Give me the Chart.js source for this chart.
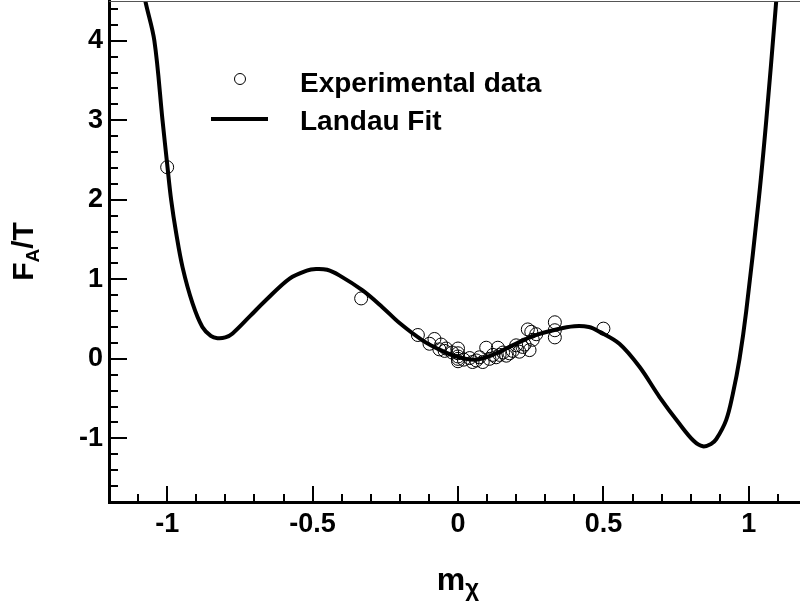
<!DOCTYPE html>
<html>
<head>
<meta charset="utf-8">
<script src="https://cdn.jsdelivr.net/npm/chart.js@4"></script>
<style>
  html, body { margin: 0; padding: 0; background: #fff; overflow: hidden; }
  #wrap { width: 800px; height: 602px; overflow: hidden; position: relative; }
  canvas { display: block; }
</style>
</head>
<body>
<div id="wrap"><canvas id="landauChart" width="820" height="602"></canvas></div>
<script>
// ======================
// DATA
// ======================
const fitM = [
  -1.10, -1.075, -1.044, -1.016, -1.0, -0.986, -0.969, -0.947, -0.913, -0.879,
  -0.85, -0.827, -0.80, -0.775, -0.717, -0.66, -0.579, -0.52, -0.488, -0.45,
  -0.408, -0.328, -0.26, -0.201, -0.121, -0.06, -0.006, 0.06, 0.12, 0.188,
  0.26, 0.338, 0.40, 0.45, 0.487, 0.555, 0.624, 0.693, 0.762, 0.81,
  0.842, 0.87, 0.888, 0.922, 0.945, 0.968, 0.991, 1.034, 1.06, 1.092, 1.105
];
const fitF = [
  5.0, 4.5, 4.0, 3.0, 2.45, 1.99, 1.58, 1.15, 0.70, 0.40,
  0.29, 0.26, 0.27, 0.32, 0.53, 0.74, 1.01, 1.11, 1.13, 1.12,
  1.05, 0.86, 0.65, 0.45, 0.23, 0.11, 0.03, -0.01, 0.05, 0.17,
  0.29, 0.37, 0.41, 0.40, 0.34, 0.19, -0.10, -0.48, -0.82, -1.03,
  -1.10, -1.07, -1.01, -0.77, -0.44, 0.0, 0.60, 2.0, 3.0, 4.4, 5.0
];

const expM = [
  -1.0, -0.333, -0.138, -0.081, -0.098, -0.058, -0.064, -0.041, -0.046, -0.02,
  0.0, 0.0, 0.0, 0.0, 0.0, 0.02, 0.04, 0.05, 0.063, 0.074,
  0.085, 0.097, 0.108, 0.12, 0.131, 0.137, 0.143, 0.155, 0.166, 0.177,
  0.188, 0.2, 0.211, 0.222, 0.229, 0.24, 0.246, 0.252, 0.257, 0.269,
  0.333, 0.333, 0.333, 0.5
];
const expF = [
  2.41, 0.76, 0.30, 0.25, 0.19, 0.18, 0.12, 0.13, 0.10, 0.08,
  0.13, 0.07, 0.03, 0.0, -0.03, -0.01, 0.01, -0.04, -0.02, 0.02,
  -0.04, 0.14, 0.0, 0.05, 0.02, 0.14, 0.05, 0.08, 0.04, 0.07,
  0.10, 0.17, 0.09, 0.15, 0.18, 0.37, 0.11, 0.34, 0.24, 0.31,
  0.46, 0.36, 0.27, 0.38
];

const xTickVals = [-1, -0.5, 0, 0.5, 1];
const yTickVals = [-1, 0, 1, 2, 3, 4];
const xMinorStep = 0.1;
const yMinorStep = 0.2;

const FONT = '"Liberation Sans", Arial, sans-serif';

// ======================
// TICKS + TITLES + LEGEND
// ======================
const decorPlugin = {
  id: 'decor',
  afterDraw(chart) {
    const { ctx, chartArea: a, scales: { x, y } } = chart;
    ctx.save();

    // top frame line
    ctx.strokeStyle = '#555';
    ctx.lineWidth = 1;
    ctx.beginPath();
    ctx.moveTo(a.left, a.top + 0.5);
    ctx.lineTo(a.right, a.top + 0.5);
    ctx.stroke();

    // inward tick marks
    ctx.strokeStyle = '#000';
    ctx.lineWidth = 2;
    for (let v = x.min; v <= x.max + 1e-9; v += xMinorStep) {
      const r = Math.round(v * 10) / 10;
      const major = Math.abs(r * 2 - Math.round(r * 2)) < 1e-6;
      const px = Math.round(x.getPixelForValue(r));
      ctx.beginPath();
      ctx.moveTo(px, a.bottom);
      ctx.lineTo(px, a.bottom - (major ? 16 : 8));
      ctx.stroke();
    }
    for (let v = y.min; v <= y.max + 1e-9; v += yMinorStep) {
      const r = Math.round(v * 10) / 10;
      const major = Math.abs(r - Math.round(r)) < 1e-6;
      const py = Math.round(y.getPixelForValue(r));
      ctx.beginPath();
      ctx.moveTo(a.left, py);
      ctx.lineTo(a.left + (major ? 18 : 9), py);
      ctx.stroke();
    }

    ctx.fillStyle = '#000';

    // x title: m_chi
    ctx.textBaseline = 'alphabetic';
    ctx.textAlign = 'left';
    ctx.font = 'bold 32px ' + FONT;
    const mW = ctx.measureText('m').width;
    ctx.font = 'bold 24px ' + FONT;
    const cW = ctx.measureText('χ').width;
    const x0 = (a.left + a.right) / 2 - (mW + cW) / 2;
    ctx.font = 'bold 32px ' + FONT;
    ctx.fillText('m', x0, 590);
    ctx.font = 'bold 24px ' + FONT;
    ctx.fillText('χ', x0 + mW, 596);

    // y title: F_A/T (rotated)
    ctx.save();
    ctx.translate(33, (a.top + a.bottom) / 2);
    ctx.rotate(-Math.PI / 2);
    ctx.font = 'bold 30px ' + FONT;
    const fW = ctx.measureText('F').width;
    const tW = ctx.measureText('/T').width;
    ctx.font = 'bold 19px ' + FONT;
    const aW = ctx.measureText('A').width;
    let cx = -(fW + aW + tW) / 2;
    ctx.font = 'bold 30px ' + FONT;
    ctx.fillText('F', cx, 0);
    cx += fW;
    ctx.font = 'bold 19px ' + FONT;
    ctx.fillText('A', cx, 6);
    cx += aW;
    ctx.font = 'bold 30px ' + FONT;
    ctx.fillText('/T', cx, 0);
    ctx.restore();

    // legend
    ctx.lineWidth = 1;
    ctx.beginPath();
    ctx.arc(240, 79, 5.5, 0, Math.PI * 2);
    ctx.stroke();
    ctx.lineWidth = 4;
    ctx.beginPath();
    ctx.moveTo(211, 119);
    ctx.lineTo(268, 119);
    ctx.stroke();
    ctx.font = 'bold 28px ' + FONT;
    ctx.textBaseline = 'middle';
    ctx.fillText('Experimental data', 300, 84);
    ctx.fillText('Landau Fit', 300, 122);

    ctx.restore();
  }
};

// ======================
// CHART
// ======================
const canvas = document.getElementById('landauChart');

new Chart(canvas, {
  type: 'scatter',

  data: {
    datasets: [
      {
        type: 'line',
        label: 'Landau Fit',
        data: fitM.map((m, i) => ({ x: m, y: fitF[i] })),
        borderColor: '#000',
        borderWidth: 4,
        pointRadius: 0,
        fill: false,
        tension: 0.35
      },
      {
        label: 'Experimental data',
        data: expM.map((m, i) => ({ x: m, y: expF[i] })),
        pointStyle: 'circle',
        pointRadius: 6.5,
        borderWidth: 1,
        borderColor: '#000',
        backgroundColor: 'rgba(0,0,0,0)'
      }
    ]
  },

  options: {
    responsive: false,
    animation: false,
    layout: {
      autoPadding: false,
      padding: { top: 1, right: 13, left: 0, bottom: 0 }
    },

    plugins: {
      legend: { display: false },
      tooltip: { enabled: false }
    },

    scales: {
      x: {
        type: 'linear',
        min: -1.2,
        max: 1.2,
        afterFit: (s) => {
          s.height = 100;
          s.paddingLeft = 0;
          s.paddingRight = 0;
        },
        afterBuildTicks: (s) => { s.ticks = xTickVals.map(v => ({ value: v })); },
        grid: { display: false, drawTicks: false },
        border: { display: true, color: '#000', width: 3 },
        ticks: {
          padding: 6,
          color: '#000',
          font: { family: FONT, size: 27, weight: 'bold' },
          callback: (v) => String(v)
        }
      },
      y: {
        type: 'linear',
        min: -1.8,
        max: 4.5,
        afterFit: (s) => {
          s.width = 109;
          s.paddingTop = 0;
          s.paddingBottom = 0;
        },
        afterBuildTicks: (s) => { s.ticks = yTickVals.map(v => ({ value: v })); },
        grid: { display: false, drawTicks: false },
        border: { display: true, color: '#000', width: 3 },
        ticks: {
          padding: 6,
          color: '#000',
          font: { family: FONT, size: 27, weight: 'bold' },
          callback: (v) => String(v)
        }
      }
    }
  },

  plugins: [decorPlugin]
});
</script>
</body>
</html>
